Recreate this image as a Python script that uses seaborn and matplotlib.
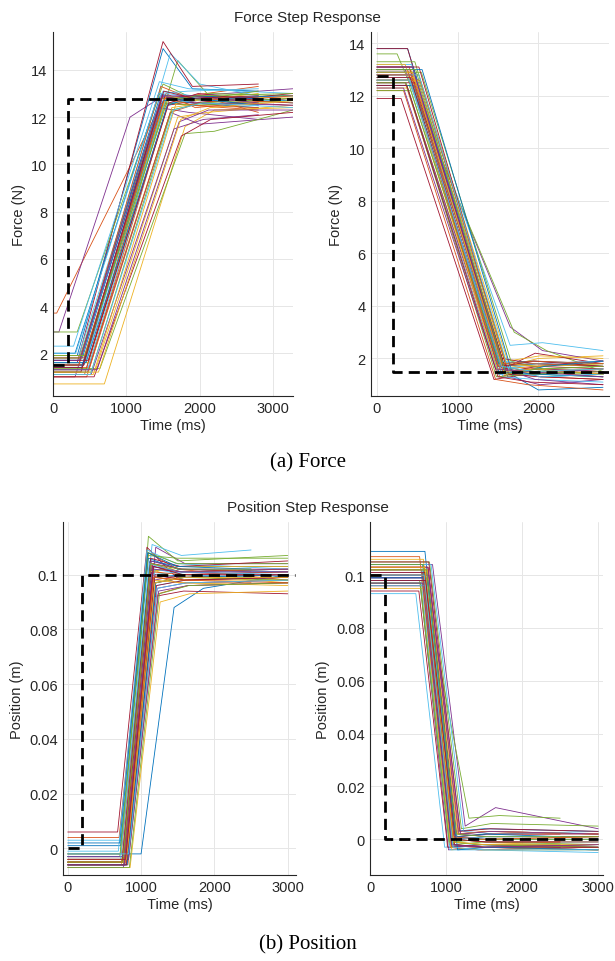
import pandas as pd
import matplotlib
matplotlib.use('Agg')
import matplotlib.pyplot as plt
import seaborn as sns

# --- Configuration ---
MATLAB_COLORS = ['#0072BD', '#D95319', '#EDB120', '#7E2F8E', '#77AC30', '#4DBEEE', '#A2142F']
SETTLE_MS = 400  # knot after the end of the ramp

# --- Force step up (left top panel) ---
FU_Y0 = [1.9, 3.7, 1.5, 2.9, 1.6, 1.7, 1.6,
         1.5, 1.2, 0.7, 1.0, 2.9, 2.3, 1.3,
         1.8, 1.1, 1.6, 1.2, 1.35, 1.9, 1.5,
         1.7, 1.0, 1.3, 1.1, 1.5, 1.6, 1.2,
         2.0, 1.4, 1.1, 1.5, 1.8, 1.3, 1.0,
         1.6, 1.5, 1.9, 1.3, 1.2, 2.0, 1.7,
         1.4, 1.8, 1.2, 1.7, 1.9, 1.1, 1.4]
FU_T0 = [330, 50, 400, 80, 480, 380, 330,
         420, 380, 700, 300, 330, 280, 450,
         400, 430, 500, 470, 640, 350, 420,
         370, 460, 580, 520, 410, 440, 380,
         300, 500, 550, 400, 360, 470, 560,
         450, 350, 430, 600, 520, 310, 480,
         390, 420, 620, 360, 440, 510, 400]
FU_T1 = [1500, 1450, 1550, 1050, 1700, 1600, 1500,
         1520, 1480, 1800, 1450, 1500, 1450, 1560,
         1480, 1540, 1620, 1600, 1800, 1500, 1530,
         1460, 1580, 1700, 1650, 1520, 1560, 1480,
         1440, 1600, 1680, 1500, 1480, 1570, 1750,
         1560, 1470, 1540, 1720, 1620, 1440, 1580,
         1500, 1520, 1740, 1480, 1560, 1640, 1510]
FU_Y1 = [14.9, 12.4, 12.7, 12.0, 14.4, 14.7, 15.2,
         12.7, 12.6, 11.6, 12.4, 13.4, 13.5, 12.5,
         12.8, 13.0, 12.4, 12.2, 11.3, 13.1, 12.9,
         12.9, 12.7, 12.0, 11.5, 12.6, 13.0, 12.8,
         13.0, 12.2, 12.6, 12.9, 12.8, 12.6, 11.2,
         12.5, 13.3, 12.9, 11.8, 12.3, 13.0, 12.6,
         12.7, 12.8, 11.9, 12.9, 12.7, 12.3, 13.1]
FU_Y2 = [13.2, 12.9, 12.9, 12.8, 13.0, 13.4, 13.3,
         12.9, 12.5, 12.3, 12.2, 12.8, 13.2, 12.7,
         12.6, 12.4, 12.6, 11.7, 11.4, 12.9, 12.6,
         12.8, 12.9, 12.2, 11.9, 12.5, 12.8, 12.9,
         12.7, 12.6, 12.8, 12.6, 12.7, 12.7, 11.9,
         12.9, 12.8, 12.7, 12.3, 12.6, 13.1, 13.0,
         12.8, 12.5, 12.4, 12.9, 12.9, 12.6, 12.8]
FU_YE = [13.1, 13.3, 12.8, 13.2, 12.9, 12.9, 13.4,
         12.6, 12.3, 12.4, 11.9, 12.7, 13.0, 12.5,
         12.4, 12.8, 12.9, 12.0, 12.3, 12.6, 13.0,
         12.9, 12.2, 12.5, 12.1, 12.7, 12.9, 12.8,
         12.8, 12.9, 12.6, 12.5, 13.1, 12.7, 12.2,
         12.7, 12.6, 13.0, 12.3, 12.8, 13.2, 12.7,
         12.5, 12.4, 12.7, 12.6, 13.0, 12.4, 12.9]
FU_TE = [2800, 2800, 3270, 3270, 3270, 2800, 2800,
         3270, 2800, 3270, 2800, 2800, 3270, 3270,
         2800, 3270, 2800, 3270, 3270, 2800, 3270,
         3270, 2800, 3270, 2800, 3270, 2800, 2800,
         2800, 3270, 2800, 3270, 2800, 3270, 3270,
         3270, 3270, 2800, 3270, 3270, 2800, 2800,
         2800, 2800, 3270, 2800, 3270, 3270, 2800]
FU_REF_T = [0, 200, 200, 3270]
FU_REF_Y = [1.5, 1.5, 12.75, 12.75]

# --- Force step down (right top panel) ---
FD_Y0 = [13.8, 12.5, 13.0, 13.0, 13.6, 12.9, 13.8,
         12.7, 12.9, 12.3, 12.6, 12.4, 12.8, 11.9,
         13.1, 12.2, 12.8, 12.9, 13.3, 12.5, 13.0,
         12.6, 13.1, 12.7, 12.4, 12.9, 13.2, 12.5,
         12.9, 12.6, 13.2, 12.8, 12.2, 12.7, 13.1,
         12.4, 13.0, 12.6, 13.1, 12.5, 12.8, 12.7,
         13.0, 12.8, 12.9, 12.3, 13.0, 12.6, 12.4]
FD_T0 = [380, 350, 420, 350, 250, 450, 380,
         420, 460, 380, 500, 400, 480, 300,
         450, 330, 520, 440, 470, 360, 410,
         500, 400, 460, 370, 550, 430, 480,
         390, 530, 350, 470, 420, 390, 520,
         460, 380, 500, 440, 360, 520, 410,
         560, 420, 440, 330, 480, 410, 370]
FD_T1 = [1600, 1520, 1600, 1650, 1700, 1650, 1560,
         1520, 1560, 1500, 1620, 1540, 1580, 1450,
         1560, 1470, 1620, 1560, 1600, 1500, 1550,
         1620, 1530, 1580, 1500, 1660, 1560, 1600,
         1510, 1640, 1490, 1590, 1530, 1520, 1630,
         1580, 1500, 1600, 1560, 1480, 1640, 1540,
         1680, 1550, 1570, 1470, 1600, 1540, 1500]
FD_Y1 = [1.5, 1.3, 1.7, 3.2, 3.0, 2.5, 1.6,
         1.4, 1.6, 1.8, 1.3, 1.5, 1.6, 1.2,
         1.7, 1.2, 1.9, 1.5, 1.8, 1.4, 2.0,
         1.6, 1.5, 1.4, 1.7, 1.9, 1.3, 1.5,
         1.8, 1.4, 1.6, 1.5, 1.7, 1.9, 1.4,
         1.5, 1.7, 1.8, 1.6, 1.3, 1.5, 1.7,
         1.4, 1.8, 1.5, 1.6, 1.4, 1.7, 1.3]
FD_Y2 = [0.8, 1.6, 2.0, 2.3, 2.3, 2.6, 2.2,
         1.5, 1.7, 1.6, 1.0, 1.4, 1.8, 1.4,
         1.8, 1.0, 2.1, 1.6, 1.7, 1.5, 1.8,
         1.3, 1.6, 1.5, 1.4, 1.6, 1.2, 1.7,
         1.9, 1.3, 1.5, 1.6, 1.5, 1.8, 1.3,
         1.4, 1.8, 1.7, 1.2, 1.4, 1.3, 1.9,
         1.7, 1.9, 1.6, 1.5, 1.6, 1.5, 1.1]
FD_YE = [0.9, 1.4, 2.1, 1.9, 1.5, 2.3, 1.8,
         1.6, 1.9, 1.5, 1.2, 1.3, 1.7, 1.5,
         1.7, 0.8, 2.0, 1.4, 1.8, 1.6, 1.9,
         1.4, 1.5, 1.3, 1.6, 1.7, 1.1, 1.6,
         1.8, 1.2, 1.6, 1.5, 1.4, 1.9, 1.2,
         1.3, 1.7, 1.8, 1.0, 1.5, 1.4, 1.7,
         1.9, 1.8, 1.4, 1.3, 1.7, 1.6, 1.0]
FD_TE = [2800] * 49
FD_REF_T = [0, 200, 200, 2880]
FD_REF_Y = [12.75, 12.75, 1.5, 1.5]

# --- Position step up (left bottom panel) ---
PU_Y0 = [-0.002, 0.004, -0.005, -0.006, -0.004, 0.003, 0.006,
         0.001, -0.003, -0.006, -0.004, -0.005, -0.001, -0.006,
         -0.004, -0.002, -0.007, -0.005, -0.003, -0.006, -0.004,
         -0.005, -0.006, -0.004, -0.007, -0.002, -0.005, -0.003,
         -0.003, -0.005, -0.006, -0.004, -0.006, -0.003, -0.005,
         -0.006, -0.004, -0.005, -0.003, -0.007, -0.004, -0.006,
         0.002, -0.005, -0.004, -0.006, -0.005, -0.002, -0.004]
PU_T0 = [1000, 700, 760, 800, 780, 740, 680,
         720, 800, 760, 820, 740, 690, 780,
         770, 730, 850, 790, 710, 800, 760,
         740, 820, 780, 760, 720, 770, 810,
         790, 750, 730, 830, 770, 810, 740,
         810, 770, 790, 750, 840, 720, 800,
         710, 780, 800, 770, 750, 830, 790]
PU_T1 = [1450, 1100, 1150, 1200, 1100, 1150, 1080,
         1100, 1200, 1140, 1220, 1120, 1080, 1180,
         1150, 1110, 1260, 1180, 1090, 1200, 1160,
         1120, 1230, 1170, 1160, 1100, 1150, 1210,
         1180, 1140, 1120, 1240, 1170, 1190, 1130,
         1200, 1160, 1170, 1140, 1250, 1110, 1190,
         1090, 1170, 1190, 1160, 1130, 1220, 1170]
PU_Y1 = [0.088, 0.108, 0.104, 0.110, 0.114, 0.111, 0.110,
         0.106, 0.097, 0.102, 0.095, 0.101, 0.109, 0.092,
         0.103, 0.100, 0.090, 0.098, 0.107, 0.096, 0.104,
         0.105, 0.093, 0.099, 0.103, 0.108, 0.100, 0.096,
         0.099, 0.104, 0.101, 0.094, 0.097, 0.102, 0.106,
         0.097, 0.101, 0.098, 0.105, 0.093, 0.104, 0.100,
         0.108, 0.099, 0.097, 0.102, 0.104, 0.095, 0.103]
PU_Y2 = [0.095, 0.102, 0.100, 0.104, 0.105, 0.107, 0.099,
         0.102, 0.099, 0.098, 0.097, 0.103, 0.104, 0.094,
         0.101, 0.097, 0.093, 0.100, 0.106, 0.098, 0.102,
         0.103, 0.096, 0.098, 0.101, 0.104, 0.101, 0.098,
         0.100, 0.101, 0.103, 0.096, 0.099, 0.100, 0.103,
         0.099, 0.100, 0.097, 0.102, 0.096, 0.101, 0.098,
         0.103, 0.098, 0.099, 0.101, 0.102, 0.097, 0.100]
PU_YE = [0.100, 0.098, 0.097, 0.104, 0.107, 0.109, 0.100,
         0.101, 0.100, 0.099, 0.098, 0.103, 0.102, 0.093,
         0.102, 0.097, 0.094, 0.101, 0.106, 0.099, 0.101,
         0.103, 0.097, 0.098, 0.100, 0.104, 0.101, 0.099,
         0.099, 0.102, 0.103, 0.097, 0.098, 0.099, 0.105,
         0.100, 0.101, 0.096, 0.102, 0.097, 0.100, 0.099,
         0.102, 0.097, 0.099, 0.101, 0.102, 0.098, 0.100]
PU_TE = [3000, 3000, 3000, 3000, 3000, 2500, 3000,
         3000, 3000, 2500, 3000, 3000, 3000, 3000,
         3000, 2500, 3000, 3000, 3000, 3000, 2500,
         3000, 3000, 3000, 2500, 3000, 3000, 3000,
         2500, 3000, 3000, 3000, 3000, 2500, 3000,
         3000, 3000, 3000, 3000, 3000, 3000, 3000,
         2500, 3000, 3000, 3000, 2500, 3000, 3000]
PU_REF_T = [0, 200, 200, 3100]
PU_REF_Y = [0.0, 0.0, 0.1, 0.1]

# --- Position step down (right bottom panel) ---
PD_Y0 = [0.109, 0.107, 0.106, 0.104, 0.101, 0.093, 0.103,
         0.102, 0.098, 0.100, 0.096, 0.105, 0.099, 0.094,
         0.100, 0.103, 0.097, 0.101, 0.098, 0.104, 0.099,
         0.097, 0.101, 0.095, 0.103, 0.100, 0.098, 0.102,
         0.104, 0.096, 0.102, 0.099, 0.097, 0.101, 0.105,
         0.099, 0.103, 0.098, 0.100, 0.104, 0.096, 0.101,
         0.098, 0.100, 0.103, 0.097, 0.102, 0.100, 0.098]
PD_T0 = [720, 650, 700, 820, 680, 600, 760,
         680, 740, 700, 660, 780, 720, 640,
         700, 760, 690, 740, 650, 800, 710,
         730, 690, 710, 760, 720, 670, 750,
         690, 720, 750, 700, 660, 730, 770,
         740, 710, 680, 770, 700, 750, 720,
         760, 700, 720, 690, 740, 710, 730]
PD_T1 = [1100, 1050, 1080, 1250, 1300, 980, 1120,
         1060, 1140, 1090, 1030, 1200, 1110, 1020,
         1080, 1170, 1070, 1130, 1040, 1230, 1100,
         1120, 1070, 1090, 1160, 1100, 1050, 1140,
         1070, 1100, 1150, 1080, 1040, 1120, 1180,
         1130, 1090, 1060, 1190, 1080, 1140, 1110,
         1150, 1080, 1100, 1070, 1130, 1090, 1120]
PD_Y1 = [0.003, -0.002, 0.001, 0.005, 0.008, -0.003, 0.002,
         -0.003, 0.001, -0.002, -0.004, 0.004, 0.000, -0.003,
         -0.001, 0.002, -0.004, 0.001, -0.002, 0.003, 0.000,
         0.000, -0.003, -0.001, 0.002, -0.002, -0.004, 0.001,
         -0.002, 0.000, 0.002, -0.003, -0.001, 0.001, 0.003,
         0.001, -0.002, -0.003, 0.002, -0.001, 0.000, -0.002,
         -0.004, 0.001, -0.001, -0.002, 0.002, -0.003, 0.000]
PD_Y2 = [0.004, -0.003, 0.000, 0.012, 0.009, -0.002, 0.003,
         -0.002, 0.002, -0.003, -0.003, 0.006, 0.001, -0.004,
         -0.002, 0.003, -0.003, 0.000, -0.003, 0.002, 0.001,
         -0.001, -0.002, -0.002, 0.001, -0.001, -0.004, 0.002,
         -0.003, -0.001, 0.003, -0.002, -0.002, 0.000, 0.004,
         0.002, -0.003, -0.004, 0.003, 0.000, 0.001, -0.003,
         -0.003, 0.000, -0.002, -0.003, 0.001, -0.004, -0.001]
PD_YE = [0.003, -0.004, 0.001, 0.004, 0.008, -0.003, 0.002,
         -0.003, 0.002, -0.002, -0.004, 0.005, 0.001, -0.003,
         -0.002, 0.002, -0.004, 0.000, -0.003, 0.003, 0.001,
         -0.001, -0.003, -0.001, 0.001, -0.002, -0.005, 0.002,
         -0.002, -0.001, 0.002, -0.003, -0.003, 0.000, 0.003,
         0.001, -0.002, -0.004, 0.002, 0.000, 0.001, -0.003,
         -0.004, 0.001, -0.002, -0.002, 0.001, -0.004, -0.001]
PD_TE = [3000, 3000, 3000, 3000, 2500, 3000, 3000,
         3000, 2500, 3000, 3000, 3000, 3000, 3000,
         2500, 3000, 3000, 3000, 2500, 3000, 3000,
         3000, 3000, 2500, 3000, 3000, 3000, 3000,
         3000, 3000, 3000, 2500, 3000, 3000, 3000,
         2500, 3000, 3000, 3000, 3000, 2500, 3000,
         3000, 3000, 3000, 3000, 3000, 3000, 2500]
PD_REF_T = [0, 200, 200, 3000]
PD_REF_Y = [0.1, 0.1, 0.0, 0.0]

POS_TICKS = [0, 0.02, 0.04, 0.06, 0.08, 0.1]
POS_TICK_LABELS = ['0', '0.02', '0.04', '0.06', '0.08', '0.1']


def build_traces(y0, t0, t1, y1, y2, ye, te):
    """Long-form table: each trace is a polyline through its read-off knots."""
    rows = []
    for k in range(len(y0)):
        times = [0, t0[k], t1[k], t1[k] + SETTLE_MS, te[k]]
        vals = [y0[k], y0[k], y1[k], y2[k], ye[k]]
        for t, v in zip(times, vals):
            rows.append({'trace': f'T{k:02d}', 'time': t, 'value': v})
    return pd.DataFrame(rows)


def draw_panel(ax, df, ref_t, ref_y, xlim, ylim, xticks, yticks, ylabel, ytick_labels=None):
    order = list(dict.fromkeys(df['trace']))
    palette = [MATLAB_COLORS[i % len(MATLAB_COLORS)] for i in range(len(order))]
    sns.lineplot(data=df, x='time', y='value', hue='trace', hue_order=order,
                 units='trace', estimator=None, sort=False, palette=palette,
                 legend=False, linewidth=0.6, ax=ax)
    ax.plot(ref_t, ref_y, color='black', linewidth=2.0, dashes=(4, 2.2), zorder=5)
    ax.set_xlim(*xlim)
    ax.set_ylim(*ylim)
    ax.set_xticks(xticks)
    ax.set_yticks(yticks)
    if ytick_labels is not None:
        ax.set_yticklabels(ytick_labels)
    ax.set_xlabel('Time (ms)', fontsize=10.5, color='#262626', labelpad=2)
    ax.set_ylabel(ylabel, fontsize=10.5, color='#262626', labelpad=4)
    ax.grid(True, color='#e6e6e6', linewidth=0.7)
    ax.set_axisbelow(True)
    for side in ['top', 'right']:
        ax.spines[side].set_visible(False)
    for side in ['left', 'bottom']:
        ax.spines[side].set_color('#262626')
        ax.spines[side].set_linewidth(0.8)
    ax.tick_params(direction='in', length=3, width=0.7, labelsize=10.5,
                   colors='#262626', pad=4)


sns.set_theme(style='white')
plt.rcParams['font.family'] = ['Liberation Sans', 'DejaVu Sans']

fig = plt.figure(figsize=(6.15, 9.62), dpi=100)
ax_fu = fig.add_axes([0.0862, 0.5876, 0.390, 0.378])
ax_fd = fig.add_axes([0.603, 0.5876, 0.388, 0.378])
ax_pu = fig.add_axes([0.103, 0.0897, 0.378, 0.3663])
ax_pd = fig.add_axes([0.602, 0.0897, 0.378, 0.3663])

draw_panel(ax_fu, build_traces(FU_Y0, FU_T0, FU_T1, FU_Y1, FU_Y2, FU_YE, FU_TE),
           FU_REF_T, FU_REF_Y, (0, 3270), (0.2, 15.6),
           [0, 1000, 2000, 3000], [2, 4, 6, 8, 10, 12, 14], 'Force (N)')
draw_panel(ax_fd, build_traces(FD_Y0, FD_T0, FD_T1, FD_Y1, FD_Y2, FD_YE, FD_TE),
           FD_REF_T, FD_REF_Y, (-75, 2880), (0.58, 14.43),
           [0, 1000, 2000], [2, 4, 6, 8, 10, 12, 14], 'Force (N)')
draw_panel(ax_pu, build_traces(PU_Y0, PU_T0, PU_T1, PU_Y1, PU_Y2, PU_YE, PU_TE),
           PU_REF_T, PU_REF_Y, (-60, 3110), (-0.0096, 0.1191),
           [0, 1000, 2000, 3000], POS_TICKS, 'Position (m)', POS_TICK_LABELS)
draw_panel(ax_pd, build_traces(PD_Y0, PD_T0, PD_T1, PD_Y1, PD_Y2, PD_YE, PD_TE),
           PD_REF_T, PD_REF_Y, (0, 3060), (-0.0134, 0.12),
           [0, 1000, 2000, 3000], POS_TICKS, 'Position (m)', POS_TICK_LABELS)

fig.text(0.5, 0.981, 'Force Step Response', ha='center', va='center',
         fontsize=11, color='#262626')
fig.text(0.5, 0.472, 'Position Step Response', ha='center', va='center',
         fontsize=11, color='#262626')
fig.text(0.5, 0.519, '(a) Force', ha='center', va='center', fontsize=15,
         family=['Liberation Serif', 'DejaVu Serif'], color='black')
fig.text(0.5, 0.018, '(b) Position', ha='center', va='center', fontsize=15,
         family=['Liberation Serif', 'DejaVu Serif'], color='black')

fig.savefig('out.png', dpi=100)
